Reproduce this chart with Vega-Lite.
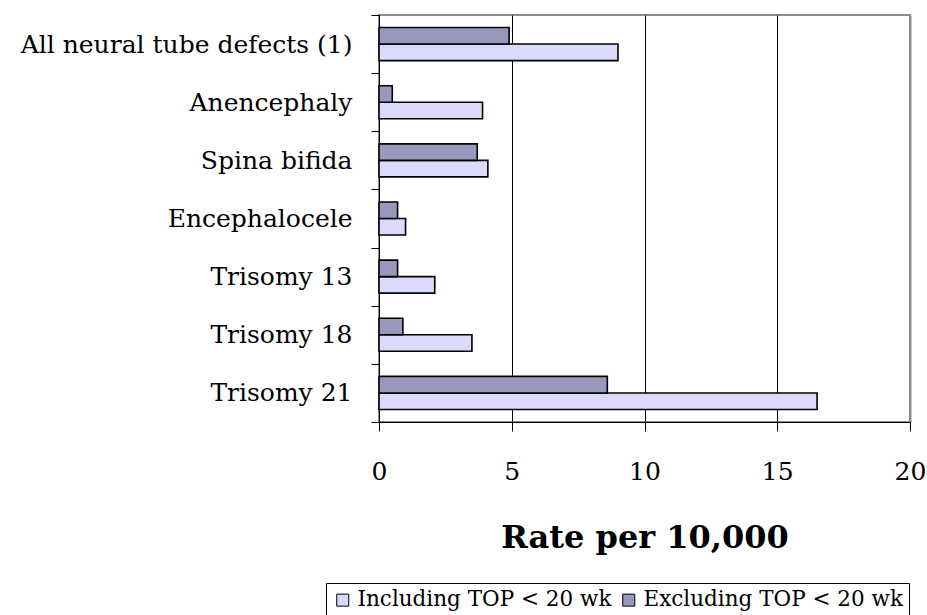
{
  "$schema": "https://vega.github.io/schema/vega-lite/v6.json",
  "width": 531,
  "height": 407,
  "autosize": {"type": "none"},
  "padding": {"left": 379, "top": 15, "right": 17, "bottom": 193},
  "background": "white",
  "config": {"font": "DejaVu Serif", "view": {"stroke": "#8c8c8c", "strokeWidth": 2}},
  "data": {
    "values": [
      {"defect": "All neural tube defects (1)", "series": "Including TOP < 20 wk", "rate": 9.0},
      {"defect": "All neural tube defects (1)", "series": "Excluding TOP < 20 wk", "rate": 4.9},
      {"defect": "Anencephaly", "series": "Including TOP < 20 wk", "rate": 3.9},
      {"defect": "Anencephaly", "series": "Excluding TOP < 20 wk", "rate": 0.5},
      {"defect": "Spina bifida", "series": "Including TOP < 20 wk", "rate": 4.1},
      {"defect": "Spina bifida", "series": "Excluding TOP < 20 wk", "rate": 3.7},
      {"defect": "Encephalocele", "series": "Including TOP < 20 wk", "rate": 1.0},
      {"defect": "Encephalocele", "series": "Excluding TOP < 20 wk", "rate": 0.7},
      {"defect": "Trisomy 13", "series": "Including TOP < 20 wk", "rate": 2.1},
      {"defect": "Trisomy 13", "series": "Excluding TOP < 20 wk", "rate": 0.7},
      {"defect": "Trisomy 18", "series": "Including TOP < 20 wk", "rate": 3.5},
      {"defect": "Trisomy 18", "series": "Excluding TOP < 20 wk", "rate": 0.9},
      {"defect": "Trisomy 21", "series": "Including TOP < 20 wk", "rate": 16.5},
      {"defect": "Trisomy 21", "series": "Excluding TOP < 20 wk", "rate": 8.6}
    ]
  },
  "mark": {"type": "bar", "stroke": "black", "strokeWidth": 1.6},
  "encoding": {
    "y": {
      "field": "defect",
      "type": "nominal",
      "sort": ["All neural tube defects (1)", "Anencephaly", "Spina bifida", "Encephalocele", "Trisomy 13", "Trisomy 18", "Trisomy 21"],
      "scale": {"paddingInner": 0, "paddingOuter": 0},
      "axis": {
        "title": null,
        "tickBand": "extent",
        "domainColor": "black",
        "tickColor": "black",
        "tickSize": 8,
        "labelFontSize": 25,
        "labelColor": "black",
        "labelPadding": 19,
        "labelLimit": 0
      }
    },
    "yOffset": {
      "field": "series",
      "sort": ["Excluding TOP < 20 wk", "Including TOP < 20 wk"],
      "scale": {"paddingInner": 0, "paddingOuter": 0.76}
    },
    "x": {
      "field": "rate",
      "type": "quantitative",
      "scale": {"domain": [0, 20], "nice": false},
      "axis": {
        "values": [0, 5, 10, 15, 20],
        "title": "Rate per 10,000",
        "titleFontSize": 32,
        "titleFontWeight": "bold",
        "titleColor": "black",
        "titleY": 125,
        "titleBaseline": "alphabetic",
        "labelFontSize": 25,
        "labelColor": "black",
        "labelPadding": 28,
        "labelFlush": false,
        "tickSize": 9,
        "tickColor": "black",
        "domainColor": "black",
        "grid": true,
        "gridColor": {"condition": {"test": "datum.value === 20", "value": "#8c8c8c"}, "value": "black"},
        "gridWidth": {"condition": {"test": "datum.value === 20", "value": 2}, "value": 1}
      }
    },
    "color": {
      "field": "series",
      "type": "nominal",
      "scale": {"domain": ["Including TOP < 20 wk", "Excluding TOP < 20 wk"], "range": ["#DADAFA", "#9898BC"]},
      "legend": {
        "orient": "none",
        "legendX": -53,
        "legendY": 568,
        "direction": "horizontal",
        "title": null,
        "strokeColor": "black",
        "padding": 6,
        "symbolType": "square",
        "symbolSize": 144,
        "symbolStrokeColor": "black",
        "symbolStrokeWidth": 1,
        "symbolOpacity": 1,
        "labelFontSize": 21.5,
        "labelColor": "black",
        "labelOffset": 4,
        "columnPadding": 6,
        "labelLimit": 0
      }
    }
  }
}
